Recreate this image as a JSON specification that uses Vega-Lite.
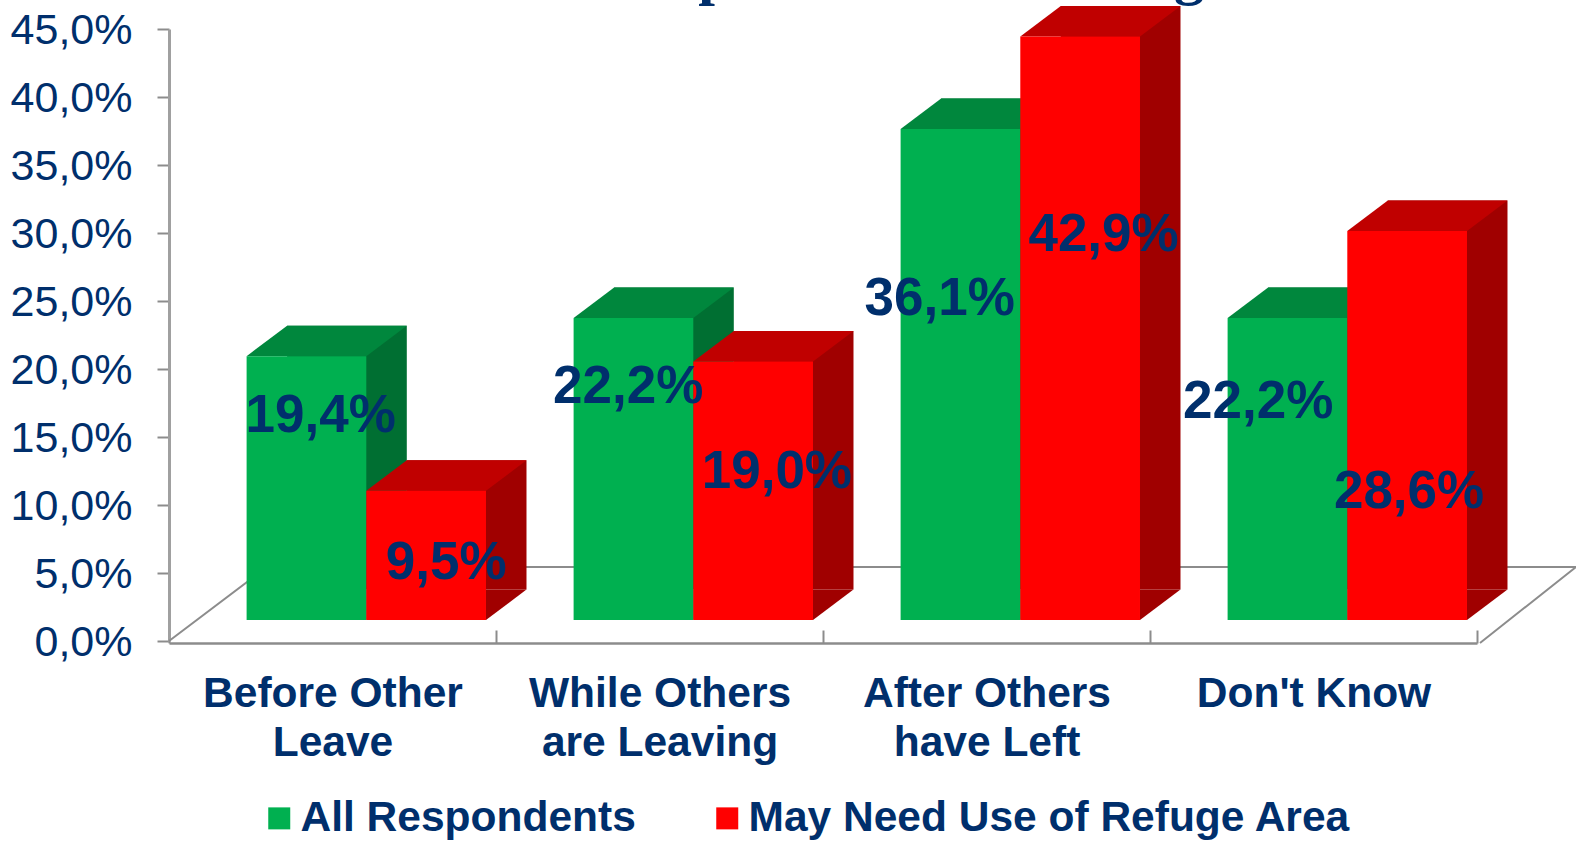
{
  "$schema": "https://vega.github.io/schema/vega-lite/v6.json",
  "width": 1308,
  "height": 612,
  "autosize": {"type": "none"},
  "padding": {"left": 169, "top": 29, "right": 99, "bottom": 200},
  "background": "white",
  "data": {
    "values": [
      {"category": "Before Other Leave", "series": "All Respondents", "value": 19.4, "label": "19,4%"},
      {"category": "Before Other Leave", "series": "May Need Use of Refuge Area", "value": 9.5, "label": "9,5%"},
      {"category": "While Others are Leaving", "series": "All Respondents", "value": 22.2, "label": "22,2%"},
      {"category": "While Others are Leaving", "series": "May Need Use of Refuge Area", "value": 19.0, "label": "19,0%"},
      {"category": "After Others have Left", "series": "All Respondents", "value": 36.1, "label": "36,1%"},
      {"category": "After Others have Left", "series": "May Need Use of Refuge Area", "value": 42.9, "label": "42,9%"},
      {"category": "Don't Know", "series": "All Respondents", "value": 22.2, "label": "22,2%"},
      {"category": "Don't Know", "series": "May Need Use of Refuge Area", "value": 28.6, "label": "28,6%"}
    ]
  },
  "encoding": {
    "x": {
      "field": "category",
      "type": "nominal",
      "sort": null,
      "scale": {"paddingInner": 0, "paddingOuter": 0},
      "axis": {
        "title": null,
        "labelAngle": 0,
        "labelFont": "Liberation Sans",
        "labelFontWeight": "bold",
        "labelFontSize": 42.5,
        "labelColor": "#002F6C",
        "labelLineHeight": 49,
        "labelPadding": 42,
        "labelLimit": 500,
        "labelBaseline": "top",
        "labelExpr": "datum.label == 'Before Other Leave' ? ['Before Other', 'Leave'] : datum.label == 'While Others are Leaving' ? ['While Others', 'are Leaving'] : datum.label == 'After Others have Left' ? ['After Others', 'have Left'] : datum.label",
        "tickBand": "extent",
        "tickSize": -13,
        "tickWidth": 2,
        "tickColor": "#8C8C8C",
        "domainColor": "#8C8C8C",
        "domainWidth": 2.5,
        "offset": 2,
        "grid": false
      }
    },
    "xOffset": {
      "field": "series",
      "type": "nominal",
      "scale": {"type": "band", "domain": ["All Respondents", "May Need Use of Refuge Area"], "paddingInner": 0, "paddingOuter": 0.366}
    }
  },
  "layer": [
    {
      "description": "Floor outline behind the bars",
      "transform": [{"filter": "datum.category == 'Before Other Leave' && datum.series == 'All Respondents'"}],
      "mark": {
        "type": "point",
        "shape": "M0,0L98,-74L1407,-74L1311,2",
        "size": 4,
        "filled": false,
        "stroke": "#8C8C8C",
        "strokeWidth": 2,
        "opacity": 1
      },
      "encoding": {
        "xOffset": {"value": 0},
        "y": {"datum": 0, "type": "quantitative"}
      }
    },
    {
      "description": "Side faces: the front rectangle pushed back along the depth direction",
      "mark": {"type": "bar", "yOffset": -51.5, "y2Offset": -51.5},
      "encoding": {
        "xOffset": {
          "field": "series",
          "type": "nominal",
          "scale": {"type": "band", "domain": ["All Respondents", "May Need Use of Refuge Area"], "paddingInner": 0, "paddingOuter": 0.366, "range": [74.3, 401.3]}
        },
        "y": {
          "field": "value",
          "type": "quantitative",
          "scale": {"domain": [0, 45], "nice": false},
          "axis": {
            "title": null,
            "values": [0, 5, 10, 15, 20, 25, 30, 35, 40, 45],
            "labelExpr": "replace(format(datum.value, '.1f'), '.', ',') + '%'",
            "labelFont": "Liberation Sans",
            "labelFontSize": 43,
            "labelColor": "#002F6C",
            "labelPadding": 25,
            "labelOffset": 1.5,
            "tickSize": 12,
            "tickWidth": 2,
            "tickColor": "#8C8C8C",
            "domainColor": "#A0A0A0",
            "domainWidth": 3,
            "grid": false
          }
        },
        "color": {
          "field": "series",
          "type": "nominal",
          "legend": null,
          "scale": {"domain": ["All Respondents", "May Need Use of Refuge Area"], "range": ["#006F32", "#A00000"]}
        }
      }
    },
    {
      "description": "Lower corner of each side face",
      "mark": {"type": "point", "shape": "M93.65,-21L134.15,-51.5L93.65,-51.5Z", "size": 4, "filled": true, "strokeWidth": 0, "opacity": 1},
      "encoding": {
        "y": {"datum": 0, "type": "quantitative"},
        "color": {
          "field": "series",
          "type": "nominal",
          "legend": null,
          "scale": {"domain": ["All Respondents", "May Need Use of Refuge Area"], "range": ["#006F32", "#A00000"]}
        }
      }
    },
    {
      "description": "Top faces",
      "mark": {"type": "point", "shape": "M-26.05,-21L14.45,-51.5L134.15,-51.5L93.65,-21Z", "size": 4, "filled": true, "strokeWidth": 0, "opacity": 1},
      "encoding": {
        "y": {"field": "value", "type": "quantitative"},
        "color": {
          "field": "series",
          "type": "nominal",
          "legend": null,
          "scale": {"domain": ["All Respondents", "May Need Use of Refuge Area"], "range": ["#00873D", "#C00000"]}
        }
      }
    },
    {
      "description": "Front faces, which also carry the legend",
      "mark": {"type": "bar", "yOffset": -21, "y2Offset": -21},
      "encoding": {
        "xOffset": {
          "field": "series",
          "type": "nominal",
          "scale": {"type": "band", "domain": ["All Respondents", "May Need Use of Refuge Area"], "paddingInner": 0, "paddingOuter": 0.366, "range": [33.8, 360.8]}
        },
        "y": {"field": "value", "type": "quantitative"},
        "color": {
          "field": "series",
          "type": "nominal",
          "scale": {"domain": ["All Respondents", "May Need Use of Refuge Area"], "range": ["#00B050", "#FF0000"]},
          "legend": {
            "title": null,
            "orient": "none",
            "direction": "horizontal",
            "legendX": 89,
            "legendY": 768,
            "symbolType": "square",
            "symbolSize": 484,
            "symbolStrokeWidth": 0,
            "labelFont": "Liberation Sans",
            "labelFontWeight": "bold",
            "labelFontSize": 42.5,
            "labelColor": "#002F6C",
            "labelLimit": 800,
            "labelOffset": 0,
            "columnPadding": 70
          }
        }
      }
    },
    {
      "description": "Descender of the heading's p, running off the top edge",
      "transform": [{"filter": "datum.category == 'While Others are Leaving' && datum.series == 'All Respondents'"}],
      "mark": {"type": "text", "text": "p", "font": "Liberation Serif", "fontWeight": "bold", "fontSize": 60, "color": "#002F6C", "baseline": "alphabetic", "dx": 219, "dy": -36},
      "encoding": {"xOffset": {"value": 0}, "y": {"datum": 45, "type": "quantitative"}}
    },
    {
      "description": "Descender of the heading's g, running off the top edge",
      "transform": [{"filter": "datum.category == 'Don\\'t Know' && datum.series == 'All Respondents'"}],
      "mark": {"type": "text", "text": "g", "font": "Liberation Serif", "fontWeight": "bold", "fontSize": 60, "color": "#002F6C", "baseline": "alphabetic", "dx": 39, "dy": -36},
      "encoding": {"xOffset": {"value": 0}, "y": {"datum": 45, "type": "quantitative"}}
    },
    {
      "transform": [{"filter": "datum.label == '19,4%'"}],
      "mark": {"type": "text", "font": "Liberation Sans", "fontWeight": "bold", "fontSize": 53, "color": "#002F6C", "dx": 48, "dy": 38.8},
      "encoding": {"y": {"field": "value", "type": "quantitative"}, "text": {"field": "label"}}
    },
    {
      "transform": [{"filter": "datum.label == '9,5%'"}],
      "mark": {"type": "text", "font": "Liberation Sans", "fontWeight": "bold", "fontSize": 53, "color": "#002F6C", "dx": 53.9, "dy": 51},
      "encoding": {"y": {"field": "value", "type": "quantitative"}, "text": {"field": "label"}}
    },
    {
      "transform": [{"filter": "datum.label == '22,2%' && datum.category == 'While Others are Leaving'"}],
      "mark": {"type": "text", "font": "Liberation Sans", "fontWeight": "bold", "fontSize": 53, "color": "#002F6C", "dx": 28.5, "dy": 47.8},
      "encoding": {"y": {"field": "value", "type": "quantitative"}, "text": {"field": "label"}}
    },
    {
      "transform": [{"filter": "datum.label == '19,0%'"}],
      "mark": {"type": "text", "font": "Liberation Sans", "fontWeight": "bold", "fontSize": 53, "color": "#002F6C", "dx": 57.5, "dy": 89.7},
      "encoding": {"y": {"field": "value", "type": "quantitative"}, "text": {"field": "label"}}
    },
    {
      "transform": [{"filter": "datum.label == '36,1%'"}],
      "mark": {"type": "text", "font": "Liberation Sans", "fontWeight": "bold", "fontSize": 53, "color": "#002F6C", "dx": 13, "dy": 148.5},
      "encoding": {"y": {"field": "value", "type": "quantitative"}, "text": {"field": "label"}}
    },
    {
      "transform": [{"filter": "datum.label == '42,9%'"}],
      "mark": {"type": "text", "font": "Liberation Sans", "fontWeight": "bold", "fontSize": 53, "color": "#002F6C", "dx": 57.2, "dy": 177.6},
      "encoding": {"y": {"field": "value", "type": "quantitative"}, "text": {"field": "label"}}
    },
    {
      "transform": [{"filter": "datum.label == '22,2%' && datum.category == 'Don\\'t Know'"}],
      "mark": {"type": "text", "font": "Liberation Sans", "fontWeight": "bold", "fontSize": 53, "color": "#002F6C", "dx": 4.6, "dy": 62.9},
      "encoding": {"y": {"field": "value", "type": "quantitative"}, "text": {"field": "label"}}
    },
    {
      "transform": [{"filter": "datum.label == '28,6%'"}],
      "mark": {"type": "text", "font": "Liberation Sans", "fontWeight": "bold", "fontSize": 53, "color": "#002F6C", "dx": 35.7, "dy": 240.4},
      "encoding": {"y": {"field": "value", "type": "quantitative"}, "text": {"field": "label"}}
    }
  ],
  "resolve": {"scale": {"color": "independent", "xOffset": "independent"}},
  "config": {"view": {"stroke": null}}
}
